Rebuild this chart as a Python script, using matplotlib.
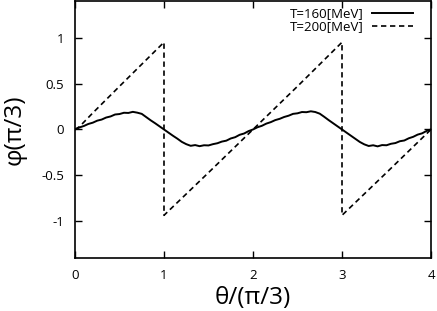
import matplotlib.pyplot as plt

plt.rcParams['font.family'] = ['Open Sans', 'DejaVu Sans']

# T=160 MeV, theta/(pi/3) vs phi/(pi/3)
theta_160 = [0.00, 0.05, 0.10, 0.15, 0.20, 0.25, 0.30, 0.35, 0.40, 0.45,
             0.50, 0.55, 0.60, 0.65, 0.70, 0.75, 0.80, 0.85, 0.90, 0.95,
             1.00, 1.05, 1.10, 1.15, 1.20, 1.25, 1.30, 1.35, 1.40, 1.45,
             1.50, 1.55, 1.60, 1.65, 1.70, 1.75, 1.80, 1.85, 1.90, 1.95,
             2.00, 2.05, 2.10, 2.15, 2.20, 2.25, 2.30, 2.35, 2.40, 2.45,
             2.50, 2.55, 2.60, 2.65, 2.70, 2.75, 2.80, 2.85, 2.90, 2.95,
             3.00, 3.05, 3.10, 3.15, 3.20, 3.25, 3.30, 3.35, 3.40, 3.45,
             3.50, 3.55, 3.60, 3.65, 3.70, 3.75, 3.80, 3.85, 3.90, 3.95,
             4.00]
phi_160 = [0.000, 0.022, 0.038, 0.060, 0.074, 0.096, 0.108, 0.130, 0.142, 0.163,
           0.168, 0.182, 0.180, 0.192, 0.183, 0.170, 0.135, 0.100, 0.068, 0.034,
           0.000, -0.034, -0.068, -0.100, -0.135, -0.160, -0.178, -0.170, -0.182, -0.172,
           -0.174, -0.160, -0.150, -0.132, -0.122, -0.098, -0.084, -0.058, -0.044, -0.018,
           0.000, 0.024, 0.040, 0.064, 0.080, 0.102, 0.116, 0.136, 0.150, 0.170,
           0.176, 0.190, 0.188, 0.198, 0.190, 0.172, 0.138, 0.102, 0.068, 0.034,
           0.000, -0.034, -0.068, -0.102, -0.136, -0.162, -0.180, -0.172, -0.184, -0.170,
           -0.172, -0.156, -0.148, -0.128, -0.120, -0.096, -0.080, -0.056, -0.042, -0.016,
           0.000]

# T=200 MeV
theta_200 = [0.00, 0.05, 0.10, 0.20, 0.50, 1.00, 1.00, 1.50, 2.00, 2.50, 3.00, 3.00, 3.50, 4.00]
phi_200 = [0.00, 0.03, 0.08, 0.18, 0.47, 0.95, -0.935, -0.47, 0.00, 0.47, 0.95, -0.935, -0.47, 0.00]

fig = plt.figure(figsize=(4.37, 3.11), dpi=100)
ax = fig.add_axes([0.1716, 0.1704, 0.8147, 0.8266])

ax.plot(theta_160, phi_160, color='black', lw=1.4, label='T=160[MeV]')
ax.plot(theta_200, phi_200, color='black', lw=1.2, dashes=(3.2, 2.2), label='T=200[MeV]')

ax.set_xlim(0, 4)
ax.set_ylim(-1.4, 1.4)
ax.set_xticks([0, 1, 2, 3, 4])
ax.set_xticklabels(['0', '1', '2', '3', '4'])
ax.set_yticks([-1, -0.5, 0, 0.5, 1])
ax.set_yticklabels(['-1', '-0.5', '0', '0.5', '1'])
ax.tick_params(direction='in', length=5, width=1, top=True, right=True,
               labelsize=9.5, pad=8)
for s in ax.spines.values():
    s.set_linewidth(1.2)

ax.set_xlabel('θ/(π/3)', fontsize=17.5, labelpad=3)
ax.set_ylabel('φ(π/3)', fontsize=17.5, labelpad=10)

ax.legend(loc='upper right', bbox_to_anchor=(0.969, 1.0), frameon=False,
          markerfirst=False, fontsize=9.5, handlelength=3.1, borderaxespad=0.1,
          labelspacing=0.0, handletextpad=0.7)

fig.savefig('out.png', dpi=100)
